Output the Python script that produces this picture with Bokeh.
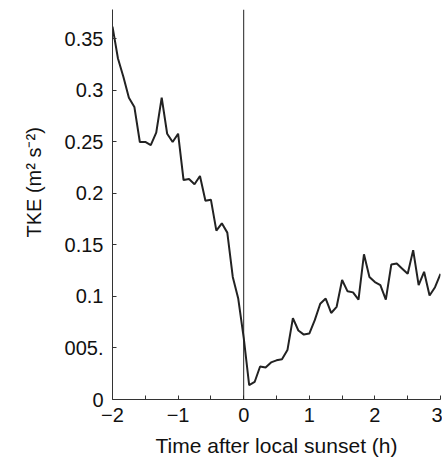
from bokeh.plotting import figure
from bokeh.models import FixedTicker, Span, Title
from bokeh.embed import file_html
from bokeh.resources import INLINE

# time after local sunset, minutes
minutes = [-120, -115, -110, -105, -100, -95, -90, -85, -80, -75, -70, -65, -60,
           -55, -50, -45, -40, -35, -30, -25, -20, -15, -10, -5, 0,
           5, 10, 15, 20, 25, 30, 35, 40, 45, 50, 55, 60,
           65, 70, 75, 80, 85, 90, 95, 100, 105, 110, 115, 120,
           125, 130, 135, 140, 145, 150, 155, 160, 165, 170, 175, 180]
tke = [0.362, 0.331, 0.313, 0.293, 0.284, 0.250, 0.250, 0.247, 0.259, 0.293, 0.258, 0.250, 0.258,
       0.213, 0.214, 0.209, 0.217, 0.193, 0.194, 0.164, 0.171, 0.162, 0.119, 0.098, 0.060,
       0.014, 0.017, 0.032, 0.031, 0.036, 0.038, 0.039, 0.048, 0.079, 0.067, 0.063, 0.064,
       0.077, 0.093, 0.098, 0.084, 0.090, 0.116, 0.105, 0.104, 0.097, 0.141, 0.119, 0.114,
       0.111, 0.097, 0.131, 0.132, 0.127, 0.122, 0.145, 0.111, 0.124, 0.101, 0.109, 0.122]
hours = [m / 60 for m in minutes]

x_ticks = [-2, -1, 0, 1, 2, 3]
x_minor = [-1.5, -0.5, 0.5, 1.5, 2.5]
x_labels = {-2: "\u22122", -1: "\u22121", 0: "0", 1: "1", 2: "2", 3: "3"}
y_ticks = [0, 0.05, 0.1, 0.15, 0.2, 0.25, 0.3, 0.35]
y_labels = ["0", "005.", "0.1", "0.15", "0.2", "0.25", "0.3", "0.35"]

FONT = "Liberation Sans"
INK = "#111111"

p = figure(width=442, height=459, output_backend="svg", toolbar_location=None,
           x_range=(-2, 3), y_range=(0, 0.3786),
           min_border_left=112, min_border_right=2, min_border_top=9, min_border_bottom=60)
p.outline_line_color = None
p.grid.visible = False
p.background_fill_color = "white"
p.border_fill_color = "white"

p.line(hours, tke, line_color="#222222", line_width=2)
p.add_layout(Span(location=0, dimension="height", line_color="#222222", line_width=1))

xa = p.xaxis[0]
xa.ticker = FixedTicker(ticks=x_ticks, minor_ticks=x_minor)
xa.major_label_overrides = x_labels
xa.major_tick_in = 4
xa.major_tick_out = 0
xa.minor_tick_in = 4
xa.minor_tick_out = 0
xa.major_label_standoff = 8
xa.axis_label = "Time after local sunset (h)"
xa.axis_label_text_font = FONT
xa.axis_label_text_font_style = "normal"
xa.axis_label_text_font_size = "21px"
xa.axis_label_text_color = INK
xa.axis_label_standoff = 9
xa.major_label_text_font = FONT
xa.major_label_text_font_size = "20px"
xa.major_label_text_color = INK
xa.axis_line_color = "#333333"
xa.major_tick_line_color = "#333333"
xa.minor_tick_line_color = "#333333"

ya = p.yaxis[0]
ya.ticker = FixedTicker(ticks=y_ticks, minor_ticks=[])
ya.major_label_overrides = {t: l for t, l in zip(y_ticks, y_labels)}
ya.major_tick_in = 4
ya.major_tick_out = 0
ya.major_label_standoff = 9
ya.major_label_text_font = FONT
ya.major_label_text_font_size = "20px"
ya.major_label_text_color = INK
ya.axis_line_color = "#333333"
ya.major_tick_line_color = "#333333"

p.add_layout(Title(text="TKE (m\u00b2 s\u207b\u00b2)", align="left", offset=162, standoff=33,
                   text_font=FONT, text_font_style="normal", text_font_size="20px",
                   text_color=INK), "left")

open("out.html", "w").write(file_html(p, INLINE))
